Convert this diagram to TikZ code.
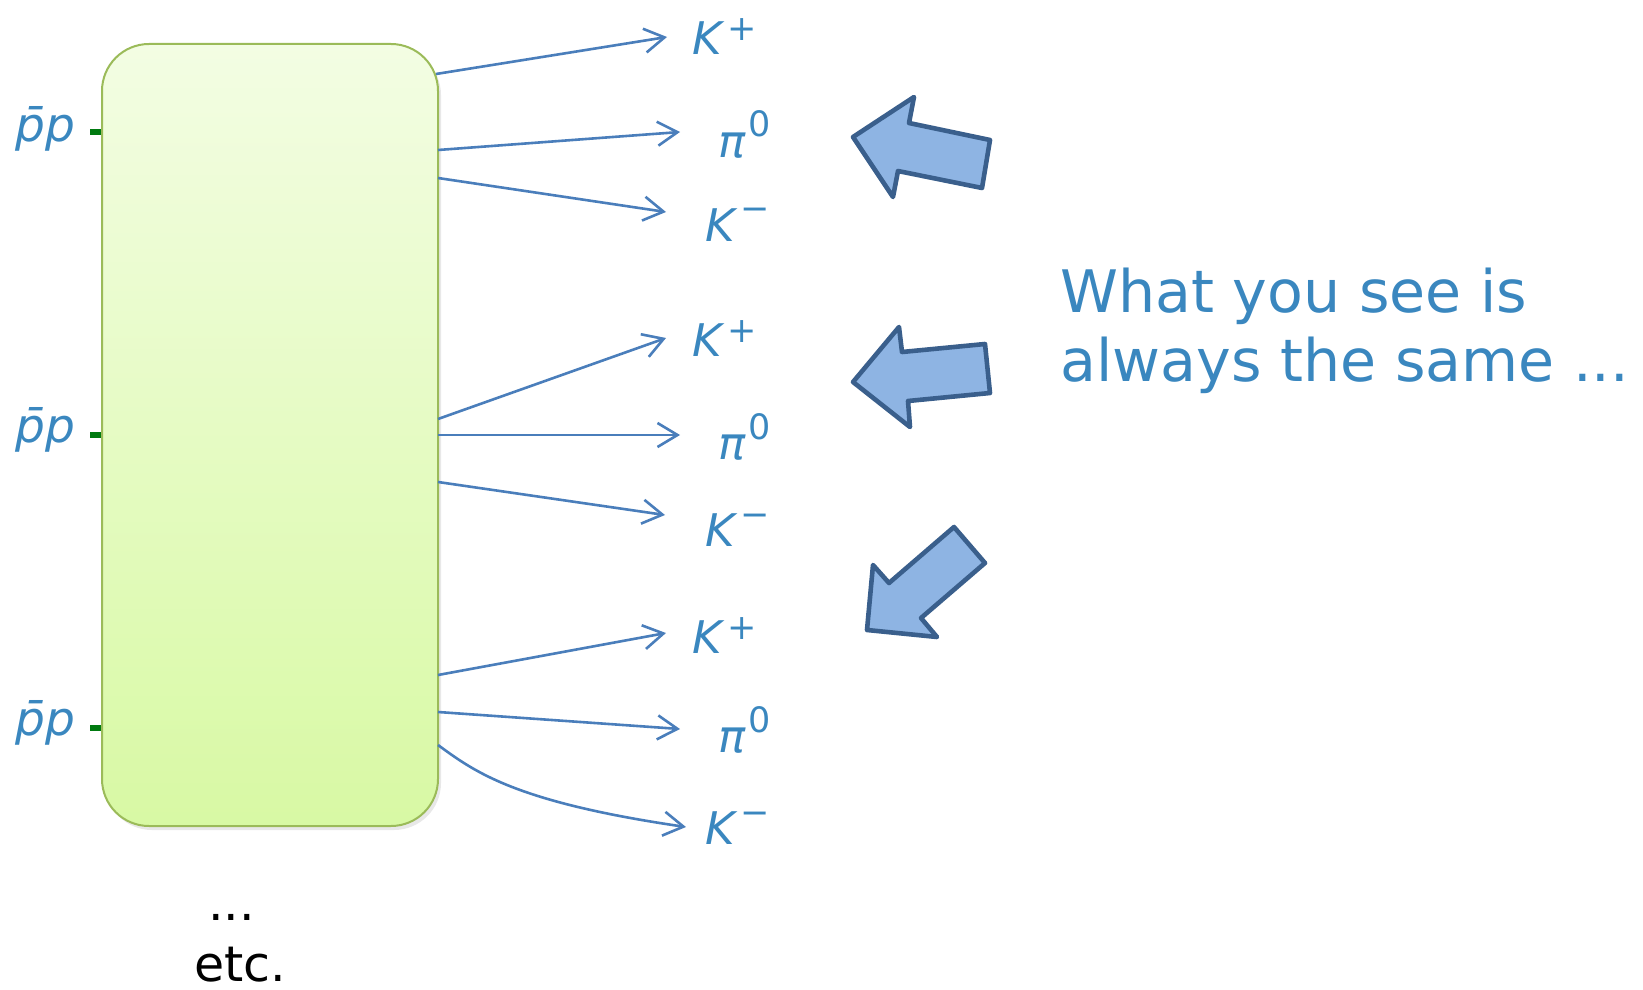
\documentclass[tikz,border=0pt]{standalone}
\usepackage{fontspec}
\setmainfont{DejaVu Sans}
\usetikzlibrary{arrows.meta,shadows}
\definecolor{labblue}{HTML}{3A87BF}
\definecolor{lineblue}{HTML}{4A7EBB}
\definecolor{blkfill}{HTML}{8EB4E3}
\definecolor{blkdraw}{HTML}{3A5F8C}
\definecolor{boxtop}{HTML}{F3FDE3}
\definecolor{boxbot}{HTML}{D8F9A4}
\definecolor{boxline}{HTML}{9BBB59}
\definecolor{stubgreen}{HTML}{007A10}
\newcommand{\sbig}{\fontsize{22.5}{22.5}\selectfont}
\newcommand{\ssup}{\fontsize{17.5}{17.5}\selectfont}
\newcommand{\Kplus}{\textit{K}\kern1.5pt\raisebox{7pt}{\ssup +}}
\newcommand{\Kminus}{\textit{K}\kern1.5pt\raisebox{10pt}{\ssup −}}
\newcommand{\Pizero}{\textit{π}\kern1pt\raisebox{10pt}{\ssup 0}}
\begin{document}
\begin{tikzpicture}[x=0.5pt,y=-0.5pt,
  plab/.style={anchor=base west,inner sep=0pt,text=labblue,font=\sbig},
  ppbar/.style={anchor=base west,inner sep=0pt,text=labblue,font=\fontsize{23.5}{23.5}\selectfont},
  pa/.style={draw=lineblue,line width=1.3pt,-{Straight Barb[length=10pt,width=12pt,line width=1.3pt]}},
  stub/.style={draw=stubgreen,line width=3pt},
  blk/.style={draw=blkdraw,fill=blkfill,line width=2.3pt,line join=round},
  bigtext/.style={anchor=base west,inner sep=0pt,text=labblue,font=\fontsize{29.3}{34}\selectfont},
  etctext/.style={anchor=base west,inner sep=0pt,font=\fontsize{24.5}{24.5}\selectfont}
]
\useasboundingbox (0,0) rectangle (1643,990);

% green stubs (behind the box)
\coordinate (s1) at (90,132);
\coordinate (s2) at (90,435);
\coordinate (s3) at (90,728);
\coordinate (s1e) at (104,132);
\coordinate (s2e) at (104,435);
\coordinate (s3e) at (104,728);
\draw[stub] (s1) -- (s1e);
\draw[stub] (s2) -- (s2e);
\draw[stub] (s3) -- (s3e);

% main box
\node[draw=boxline,line width=1pt,rounded corners=23.5pt,top color=boxtop,bottom color=boxbot,
      minimum width=168pt,minimum height=391pt,inner sep=0pt,
      drop shadow={opacity=0.18,shadow xshift=1.5pt,shadow yshift=-2pt}] (box) at (270,435) {};

% p-bar p labels
\node[ppbar] (pp1) at (15,141) {\textit{p̄p}};
\node[ppbar] (pp2) at (15,442) {\textit{p̄p}};
\node[ppbar] (pp3) at (15,735) {\textit{p̄p}};

% particle labels
\node[plab] (k1p) at (692,55) {\Kplus};
\node[plab] (p1)  at (718,157) {\Pizero};
\node[plab] (k1m) at (705,241) {\Kminus};
\node[plab] (k2p) at (692,356) {\Kplus};
\node[plab] (p2)  at (718,459) {\Pizero};
\node[plab] (k2m) at (705,546) {\Kminus};
\node[plab] (k3p) at (692,653) {\Kplus};
\node[plab] (p3)  at (718,752) {\Pizero};
\node[plab] (k3m) at (705,844) {\Kminus};

% arrow endpoints
\coordinate (a1s) at (436,74);  \coordinate (a1e) at (667,37);
\coordinate (a2s) at (438,150); \coordinate (a2e) at (680,132);
\coordinate (a3s) at (438,178); \coordinate (a3e) at (666,212);
\coordinate (b1s) at (438,419); \coordinate (b1e) at (666,338);
\coordinate (b2s) at (438,435); \coordinate (b2e) at (680,435);
\coordinate (b3s) at (438,482); \coordinate (b3e) at (665,515);
\coordinate (c1s) at (438,675); \coordinate (c1e) at (666,633);
\coordinate (c2s) at (438,712); \coordinate (c2e) at (680,729);
\coordinate (c3s) at (438,745); \coordinate (c3e) at (686,827);

\draw[pa] (a1s) -- (a1e);
\draw[pa] (a2s) -- (a2e);
\draw[pa] (a3s) -- (a3e);
\draw[pa] (b1s) -- (b1e);
\draw[pa] (b2s) -- (b2e);
\draw[pa] (b3s) -- (b3e);
\draw[pa] (c1s) -- (c1e);
\draw[pa] (c2s) -- (c2e);
\draw[pa] (c3s) .. controls (475,772) and (515,802) .. (c3e);

% block arrows
\draw[blk] (853,137) -- (914,97) -- (909,123) -- (990,140) -- (982,188) -- (898,171) -- (893,197) -- cycle;
\draw[blk] (853,382) -- (899,327) -- (902,352) -- (985,344) -- (990,393) -- (908,401) -- (910,427) -- cycle;
\draw[blk] (867,630) -- (873,565) -- (889,583) -- (954,527) -- (985,563) -- (921,618) -- (937,637) -- cycle;

% text
\node[bigtext] (t1) at (1060,312) {What you see is};
\node[bigtext] (t2) at (1060,381) {always the same ...};
\node[etctext] (dots) at (208,920) {...};
\node[etctext] (etc) at (194,981) {etc.};
\end{tikzpicture}
\end{document}
